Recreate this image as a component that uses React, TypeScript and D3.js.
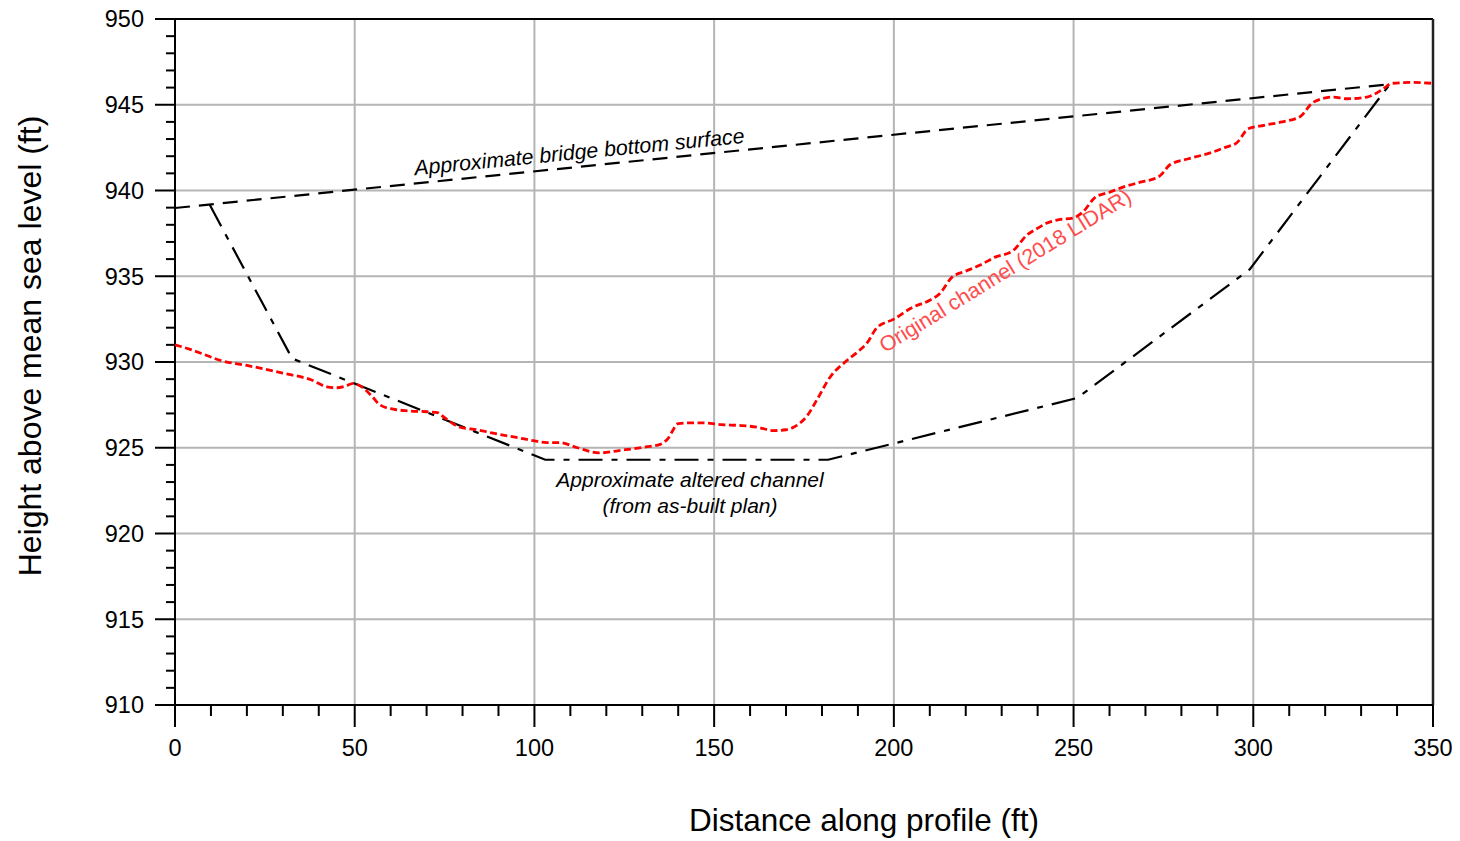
import React from "react";
import * as d3 from "d3";

const xTicks = [0, 50, 100, 150, 200, 250, 300, 350];
const yTicks = [910, 915, 920, 925, 930, 935, 940, 945, 950];

const bridgeX = [0, 338];
const bridgeY = [938.98, 946.2];

const alteredX = [9.7, 32.6, 103, 181.7, 251, 299, 338];
const alteredY = [939.15, 930.2, 924.3, 924.3, 927.9, 935.4, 946.2];

const originalX = [0, 4, 8, 12.5, 20, 30, 38, 42.3, 45, 47.5, 49.6, 52.3, 55, 57, 60.7, 65, 70, 73, 75, 79.3, 84, 88.5, 95, 100, 103.5, 107, 112, 118, 124, 131, 135, 137, 140, 143, 147, 152, 157, 162, 166.5, 170, 173, 176, 178.6, 182.2, 187, 190, 192.5, 195.3, 200, 205.3, 210, 212.8, 216.2, 220, 224, 228, 233.2, 237, 240, 242.6, 246, 249.9, 252.6, 256, 260, 263.8, 268, 274, 276.8, 282, 288.9, 292, 295.5, 298.6, 303, 308, 313, 316.7, 322.2, 326, 331.6, 336, 338.6, 344.5, 349.8];
const originalY = [931.0, 930.75, 930.45, 930.1, 929.8, 929.35, 928.95, 928.55, 928.5, 928.6, 928.75, 928.5, 927.95, 927.5, 927.25, 927.15, 927.1, 927.05, 926.75, 926.2, 926.05, 925.85, 925.6, 925.4, 925.3, 925.3, 925.0, 924.7, 924.85, 925.05, 925.2, 925.5, 926.4, 926.45, 926.45, 926.35, 926.3, 926.2, 926.0, 926.05, 926.3, 926.9, 927.8, 929.1, 930.1, 930.6, 931.1, 932.0, 932.5, 933.2, 933.6, 934.0, 934.95, 935.3, 935.65, 936.1, 936.5, 937.4, 937.8, 938.1, 938.3, 938.4, 938.75, 939.6, 939.9, 940.2, 940.45, 940.85, 941.5, 941.85, 942.25, 942.5, 942.8, 943.6, 943.8, 944.0, 944.3, 945.15, 945.45, 945.35, 945.45, 945.9, 946.25, 946.3, 946.25];

const W = 1460;
const H = 841;

export default function App() {
  const x = d3.scaleLinear().domain([0, 350]).range([175, 1433]);
  const y = d3.scaleLinear().domain([910, 950]).range([705, 19]);

  const line = d3
    .line<[number, number]>()
    .x((d) => x(d[0]))
    .y((d) => y(d[1]));
  const curved = d3
    .line<[number, number]>()
    .x((d) => x(d[0]))
    .y((d) => y(d[1]))
    .curve(d3.curveMonotoneX);

  const bridge = line(bridgeX.map((v, i) => [v, bridgeY[i]] as [number, number])) || "";
  const altered = line(alteredX.map((v, i) => [v, alteredY[i]] as [number, number])) || "";
  const original = curved(originalX.map((v, i) => [v, originalY[i]] as [number, number])) || "";

  const minorX = d3.range(0, 351, 10).filter((v) => v % 50 !== 0);
  const minorY = d3.range(910, 951, 1).filter((v) => v % 5 !== 0);

  const font = "Arial, 'Liberation Sans', sans-serif";

  return (
    <svg width={W} height={H} style={{ position: "absolute", left: 0, top: 0, background: "#fff" }} fontFamily={font}>
      <rect x={0} y={0} width={W} height={H} fill="#fff" />
      {/* gridlines */}
      {xTicks.filter((t) => t > 0 && t < 350).map((t) => (
        <line key={"gx" + t} x1={x(t)} x2={x(t)} y1={y(950)} y2={y(910)} stroke="#b5b5b5" strokeWidth={2} />
      ))}
      {yTicks.filter((t) => t > 910 && t < 950).map((t) => (
        <line key={"gy" + t} x1={x(0)} x2={x(350)} y1={y(t)} y2={y(t)} stroke="#b5b5b5" strokeWidth={2} />
      ))}
      {/* frame */}
      <line x1={x(0)} x2={x(350)} y1={y(950)} y2={y(950)} stroke="#000" strokeWidth={2} />
      <line x1={x(350)} x2={x(350)} y1={y(950)} y2={y(910)} stroke="#222" strokeWidth={2.5} />
      <line x1={x(0)} x2={x(0)} y1={y(950)} y2={y(910)} stroke="#000" strokeWidth={2} />
      <line x1={x(0)} x2={x(350)} y1={y(910)} y2={y(910)} stroke="#000" strokeWidth={2} />
      {/* y ticks */}
      {yTicks.map((t) => (
        <g key={"yt" + t}>
          <line x1={x(0) - 20} x2={x(0)} y1={y(t)} y2={y(t)} stroke="#000" strokeWidth={2} />
          <text x={x(0) - 31} y={y(t)} dy="0.36em" textAnchor="end" fontSize={23.5} fill="#000">
            {t}
          </text>
        </g>
      ))}
      {minorY.map((t) => (
        <line key={"ym" + t} x1={x(0) - 9} x2={x(0)} y1={y(t)} y2={y(t)} stroke="#000" strokeWidth={2} />
      ))}
      {/* x ticks */}
      {xTicks.map((t) => (
        <g key={"xt" + t}>
          <line x1={x(t)} x2={x(t)} y1={y(910)} y2={y(910) + 22} stroke="#000" strokeWidth={2} />
          <text x={x(t)} y={y(910) + 51} textAnchor="middle" fontSize={23.5} fill="#000">
            {t}
          </text>
        </g>
      ))}
      {minorX.map((t) => (
        <line key={"xm" + t} x1={x(t)} x2={x(t)} y1={y(910)} y2={y(910) + 11} stroke="#000" strokeWidth={2} />
      ))}
      {/* data lines */}
      <path d={bridge} fill="none" stroke="#000" strokeWidth={2.2} strokeDasharray="15 9" />
      <path d={altered} fill="none" stroke="#000" strokeWidth={2.2} strokeDasharray="24 9 6 9" />
      <path d={original} fill="none" stroke="#ff0000" strokeWidth={2.8} strokeDasharray="7 3.5" />
      {/* annotations */}
      <text
        transform={`translate(580,159) rotate(-5.6)`}
        textAnchor="middle"
        fontSize={21.3}
        fontStyle="italic"
        fill="#000"
      >
        Approximate bridge bottom surface
      </text>
      <text x={690} y={487} textAnchor="middle" fontSize={21} fontStyle="italic" fill="#000">
        Approximate altered channel
      </text>
      <text x={690} y={513} textAnchor="middle" fontSize={21} fontStyle="italic" fill="#000">
        (from as-built plan)
      </text>
      <text
        transform={`translate(1009,277) rotate(-31.6)`}
        textAnchor="middle"
        fontSize={21.4}
        fill="#ff4d4d"
      >
        Original channel (2018 LIDAR)
      </text>
      {/* axis titles */}
      <text transform={`translate(41,346) rotate(-90)`} textAnchor="middle" fontSize={32} fill="#000">
        Height above mean sea level (ft)
      </text>
      <text x={864} y={831} textAnchor="middle" fontSize={31.5} fill="#000">
        Distance along profile (ft)
      </text>
    </svg>
  );
}
